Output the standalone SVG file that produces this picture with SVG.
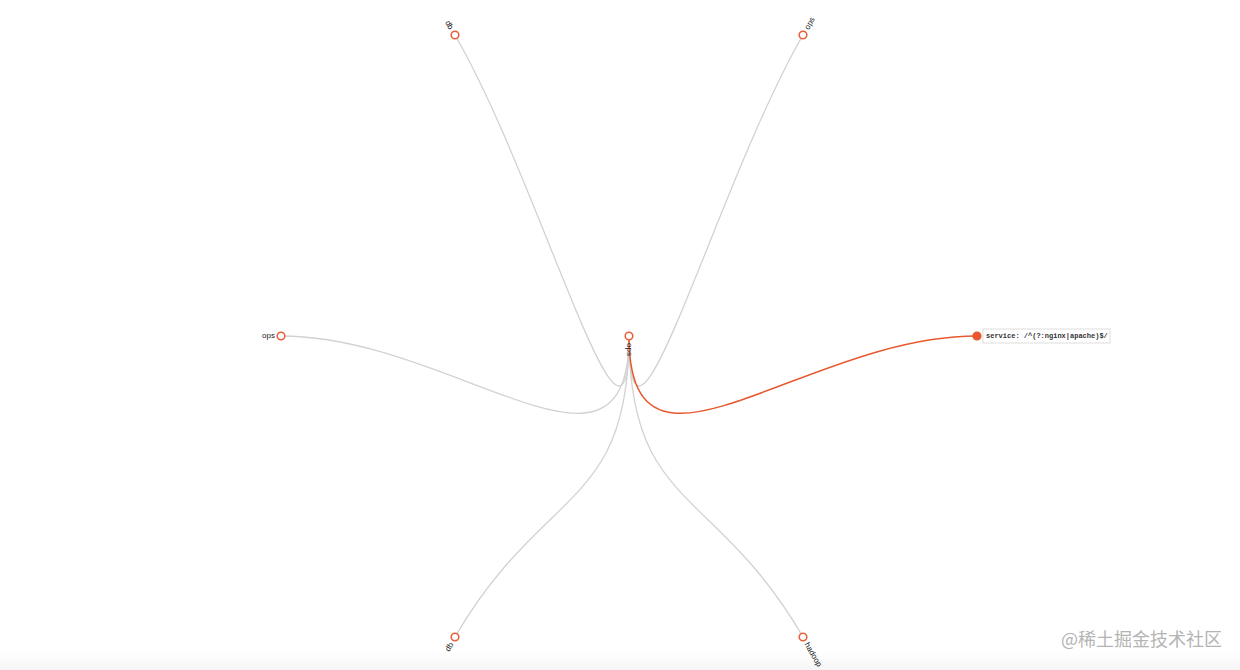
<svg xmlns="http://www.w3.org/2000/svg" width="1240" height="670" viewBox="0 0 1240 670">
<defs>
<linearGradient id="band" x1="0" y1="0" x2="0" y2="1">
<stop offset="0" stop-color="#ffffff"/>
<stop offset="1" stop-color="#f6f6f6"/>
</linearGradient>
</defs>
<style>
.link{fill:none;stroke:#d2d2d2;stroke-width:1.3}
.link.active{stroke:#e8582e;stroke-width:1.5}
.node circle{fill:#fff;stroke:#e8603c;stroke-width:1.6}
.node.active circle{fill:#e8582e;stroke:#e8582e}
.lbl{font-family:"Liberation Sans",Arial,sans-serif;font-size:8px;fill:#222}
.tag{fill:#fff;stroke:#ddd;stroke-width:1}
.tagtxt{font-family:"Liberation Mono","Courier New",monospace;font-size:7px;fill:#333;font-weight:bold}
.wm{font-family:"Noto Sans CJK SC","Noto Sans",sans-serif;font-size:18px;fill:#b4b4b4}
</style>
<rect x="0" y="0" width="1240" height="670" fill="#fff"/>
<rect x="0" y="652" width="1240" height="18" fill="url(#band)"/>
<g id="connectors">
<path class="link" d="M629,336 C629,510 716,185.5 803,35"/>
<path class="link" d="M629,336 C629,510 716,486.5 803,637"/>
<path class="link" d="M629,336 C629,510 542,486.5 455,637"/>
<path class="link" d="M629,336 C629,510 455,336 281,336"/>
<path class="link" d="M629,336 C629,510 542,185.5 455,35"/>
<path class="link active" d="M629,336 C629,510 803,336 977,336"/>
</g>
<g id="node-root" class="node" transform="translate(629,336)">
<circle r="3.8"/>
<text class="lbl" transform="rotate(90)" x="7" dy="0.31em">ops</text>
</g>
<g id="node-top-right" class="node" transform="translate(803,35)">
<circle r="3.8"/>
<text class="lbl" transform="rotate(-60)" x="7" dy="0.31em">ops</text>
</g>
<g id="node-right" class="node active" transform="translate(977,336)">
<circle r="3.8"/>
<rect class="tag" x="6" y="-7" width="127" height="14"/>
<text class="tagtxt" x="9" dy="0.31em">service: /^(?:nginx|apache)$/</text>
</g>
<g id="node-bottom-right" class="node" transform="translate(803,637)">
<circle r="3.8"/>
<text class="lbl" transform="rotate(60)" x="7" dy="0.31em">hadoop</text>
</g>
<g id="node-bottom-left" class="node" transform="translate(455,637)">
<circle r="3.8"/>
<text class="lbl" transform="rotate(-60)" x="-7" dy="0.31em" text-anchor="end">db</text>
</g>
<g id="node-left" class="node" transform="translate(281,336)">
<circle r="3.8"/>
<text class="lbl" x="-6" dy="0.31em" text-anchor="end">ops</text>
</g>
<g id="node-top-left" class="node" transform="translate(455,35)">
<circle r="3.8"/>
<text class="lbl" transform="rotate(60)" x="-7" dy="0.31em" text-anchor="end">db</text>
</g>
<text class="wm" x="1061" y="646">@稀土掘金技术社区</text>
</svg>
